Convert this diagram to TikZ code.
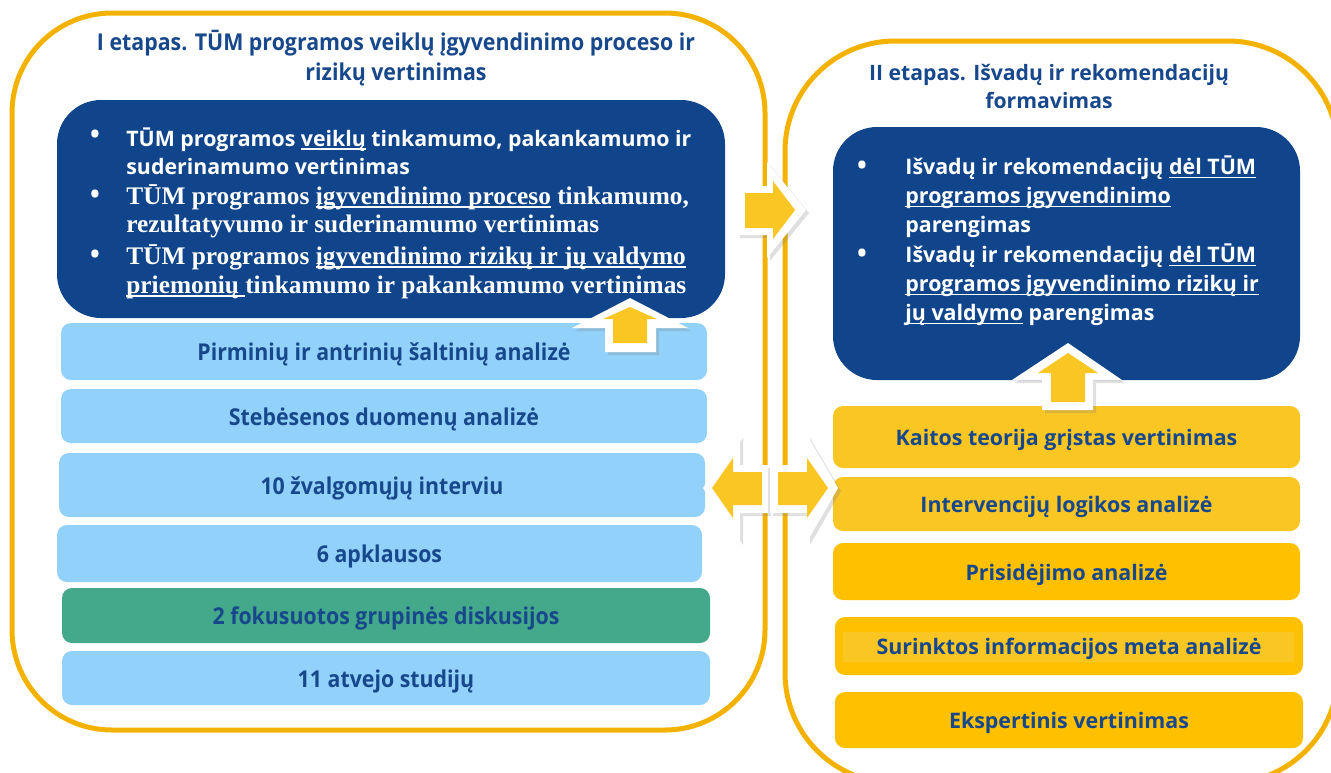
\documentclass[tikz,border=0pt]{standalone}
\usepackage{fontspec}
\setmainfont{Open Sans}
\newfontfamily\condfont[FakeStretch=0.92]{Open Sans}
\newfontfamily\serifb{Liberation Serif}
\usetikzlibrary{shadows}
\newcommand\undl[1]{\leavevmode\setbox0\hbox{#1}\rlap{\rule[-1.7pt]{\wd0}{0.7pt}}\box0\relax}

\definecolor{frameorange}{RGB}{244,178,0}
\definecolor{boxblue}{RGB}{16,69,139}
\definecolor{txtblue}{RGB}{24,72,140}
\definecolor{barblue}{RGB}{146,209,250}
\definecolor{bargreen}{RGB}{67,169,138}
\definecolor{baryellow}{RGB}{249,198,35}
\definecolor{bargold}{RGB}{255,192,0}
\definecolor{arrowyellow}{RGB}{249,198,35}

\tikzset{
  frame/.style={draw=frameorange, line width=2.5pt},
  darkbox/.style={fill=boxblue, rounded corners=22pt},
  title/.style={text=txtblue, align=center, inner sep=0pt},
  itemtxt/.style={text=white, align=left, anchor=west, inner sep=0pt},
  dot/.style={text=white, inner sep=0pt, font=\bfseries\fontsize{13}{13}\selectfont},
  lbar/.style={fill=barblue, rounded corners=5pt, text=txtblue, text height=9.2pt, text depth=0pt,
    font=\condfont\bfseries\fontsize{11.6}{13}\selectfont},
  rbar/.style={fill=bargold, rounded corners=5pt, text=txtblue, text height=8.6pt, text depth=0pt,
    font=\bfseries\fontsize{10.7}{12}\selectfont},
  arrowback/.style={fill=white, drop shadow={opacity=0.25, shadow xshift=1.5pt, shadow yshift=-1.5pt}},
  arrowfill/.style={fill=arrowyellow},
}

\begin{document}
\begin{tikzpicture}[x=0.5pt, y=-0.5pt]
  \clip (0,0) rectangle (1331,772);

  % frames of the two stages
  \draw[frame, rounded corners=50pt] (12,13) rectangle (765,730);
  \draw[frame, rounded corners=55pt] (785,41) rectangle (1338,783);

  \node[title, font=\condfont\bfseries\fontsize{11.6}{15}\selectfont] (t1) at (396,58)
    {I etapas. TŪM programos veiklų įgyvendinimo proceso ir\\rizikų vertinimas};
  \node[title, font=\bfseries\fontsize{10.6}{14}\selectfont] (t2) at (1049,86)
    {II etapas. Išvadų ir rekomendacijų\\formavimas};

  % stage I
  \path[darkbox] (57,100) rectangle (725,318);
  \node[dot] (b1) at (95,137) {•};
  \node[dot] (b2) at (95,197) {•};
  \node[dot] (b3) at (95,257) {•};
  \node[itemtxt, font=\bfseries\fontsize{10.66}{14}\selectfont] (i1) at (126,151)
    {TŪM programos \undl{veiklų} tinkamumo, pakankamumo ir\\suderinamumo vertinimas};
  \node[itemtxt, font=\serifb\bfseries\fontsize{12.66}{14}\selectfont] (i2) at (126,211)
    {TŪM programos \undl{įgyvendinimo proceso} tinkamumo,\\rezultatyvumo ir suderinamumo vertinimas};
  \node[itemtxt, font=\serifb\bfseries\fontsize{12.66}{14.5}\selectfont] (i3) at (126,271.5)
    {TŪM programos \undl{įgyvendinimo rizikų ir jų valdymo}\\\undl{priemonių\ }tinkamumo ir pakankamumo vertinimas};

  \node[lbar, minimum width=323pt, minimum height=28.5pt] (pirm) at (384,351.5) {Pirminių ir antrinių šaltinių analizė};
  \node[lbar, minimum width=323pt, minimum height=27pt] (steb) at (384,416) {Stebėsenos duomenų analizė};
  \node[lbar, minimum width=323pt, minimum height=32pt] (intv) at (382,485) {10 žvalgomųjų interviu};
  \node[lbar, minimum width=322.5pt, minimum height=28.5pt] (apkl) at (379.5,553.5) {6 apklausos};
  \node[lbar, fill=bargreen, minimum width=324pt, minimum height=27.5pt] (fgd) at (386,615.5) {2 fokusuotos grupinės diskusijos};
  \node[lbar, minimum width=324pt, minimum height=27pt] (atv) at (386,678) {11 atvejo studijų};

  % stage II
  \path[darkbox] (833,127) rectangle (1300,380);
  \node[dot] (b4) at (862,168) {•};
  \node[dot] (b5) at (862,256) {•};
  \node[itemtxt, font=\bfseries\fontsize{10.7}{14.5}\selectfont] (i4) at (905,197)
    {Išvadų ir rekomendacijų \undl{dėl TŪM}\\\undl{programos įgyvendinimo}\\parengimas};
  \node[itemtxt, font=\bfseries\fontsize{10.7}{14.5}\selectfont] (i5) at (905,285)
    {Išvadų ir rekomendacijų \undl{dėl TŪM}\\\undl{programos įgyvendinimo rizikų ir}\\\undl{jų valdymo} parengimas};

  \node[rbar, fill=baryellow, minimum width=233.5pt, minimum height=31pt] (kait) at (1066.5,437) {Kaitos teorija grįstas vertinimas};
  \node[rbar, fill=baryellow, minimum width=233.5pt, minimum height=27pt] (logk) at (1066.5,504) {Intervencijų logikos analizė};
  \node[rbar, minimum width=233.5pt, minimum height=28.5pt] (pris) at (1066.5,571.5) {Prisidėjimo analizė};
  \node[rbar, minimum width=234pt, minimum height=29pt] (meta) at (1069,646) {};
  \path[fill=baryellow] (843,632) rectangle (1294,662);
  \node[rbar, fill=none] (metatxt) at (meta) {Surinktos informacijos meta analizė};
  \node[rbar, minimum width=234pt, minimum height=28pt] (eksp) at (1069,720) {Ekspertinis vertinimas};

  % arrows
  \path[arrowback] (630,298) -- (688,328) -- (656,328) -- (656,352) -- (605,352) -- (605,328) -- (572,328) -- cycle;
  \path[arrowfill] (630,307) -- (657,319) -- (647,319) -- (647,343) -- (613,343) -- (613,319) -- (603,319) -- cycle;

  \path[arrowback] (1068,343) -- (1122,380) -- (1093,380) -- (1093,410) -- (1042,410) -- (1042,380) -- (1012,380) -- cycle;
  \path[arrowfill] (1068,353) -- (1098,373) -- (1085,373) -- (1085,402) -- (1051,402) -- (1051,373) -- (1038,373) -- cycle;

  \path[arrowback] (806,210) -- (767,258) -- (767,235) -- (737,235) -- (737,186) -- (767,186) -- (767,162) -- cycle;
  \path[arrowfill] (795,210) -- (773,239) -- (773,228) -- (745,228) -- (745,193) -- (773,193) -- (773,181) -- cycle;

  \path[arrowback] (703,488) -- (740,435) -- (740,465) -- (768,465) -- (768,513) -- (740,513) -- (740,542) -- cycle;
  \path[arrowfill] (712,488) -- (733,458) -- (733,472) -- (762,472) -- (762,505) -- (733,505) -- (733,518) -- cycle;
  \path[arrowback] (838,488) -- (807,435) -- (807,465) -- (770,465) -- (770,513) -- (807,513) -- (807,542) -- cycle;
  \path[arrowfill] (828,488) -- (807,458) -- (807,472) -- (778,472) -- (778,505) -- (807,505) -- (807,518) -- cycle;
\end{tikzpicture}
\end{document}
